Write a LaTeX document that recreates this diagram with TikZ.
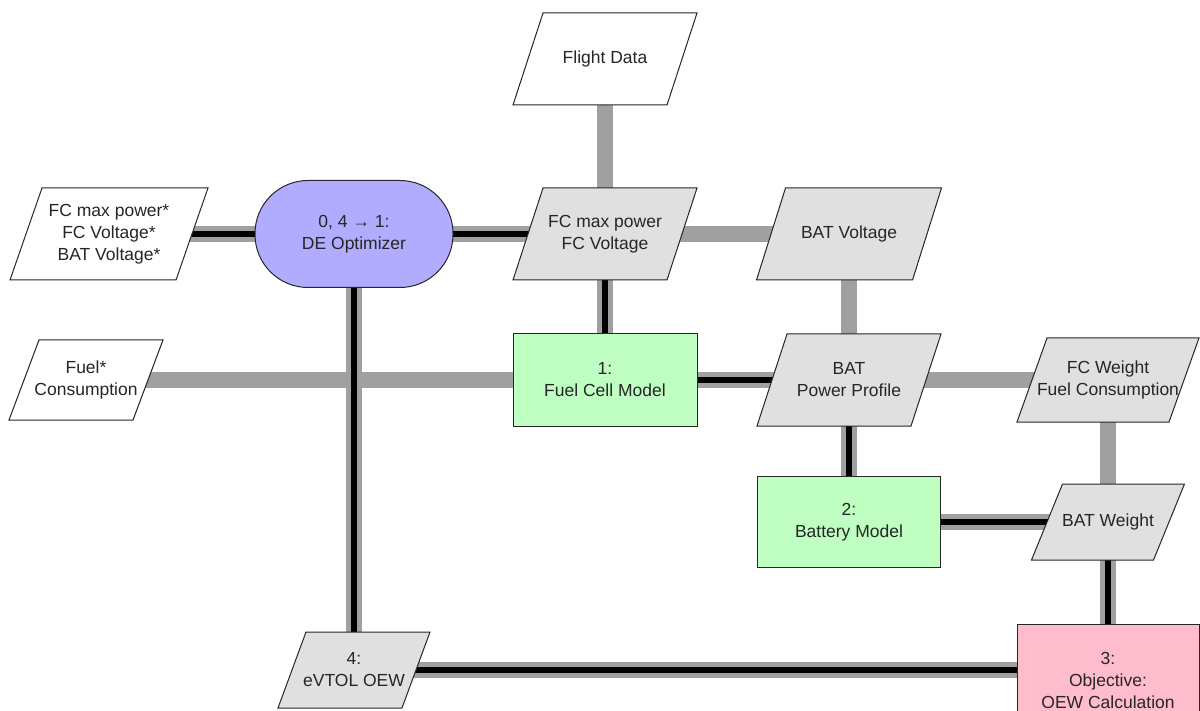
\documentclass[tikz,border=0pt]{standalone}
\usepackage{fontspec}
\setmainfont{Liberation Sans}
\usetikzlibrary{calc}
\pgfdeclarelayer{background}
\pgfdeclarelayer{shapes}
\pgfsetlayers{background,shapes,main}
\definecolor{datagray}{RGB}{160,160,160}
\definecolor{nodegray}{RGB}{224,224,224}
\definecolor{optblue}{RGB}{178,172,255}
\definecolor{fgreen}{RGB}{191,255,193}
\definecolor{objpink}{RGB}{255,188,204}
\definecolor{txtcol}{RGB}{38,38,38}
\tikzset{
  txt/.style={align=center, text=txtcol, inner sep=0pt, font=\fontsize{17.5}{22}\selectfont},
  pgramline/.style={draw=black!85, line width=1pt, line join=miter},
  compbox/.style={txt, draw=black!85, line width=1pt},
  dataline/.style={draw=datagray, line width=16pt},
  procline/.style={draw=black, line width=5.5pt},
}
% #1 name, #2 x, #3 y, #4 half width, #5 half height, #6 skew, #7 fill, #8 text
\newcommand\dnode[8]{%
  \node[txt] (#1) at (#2,#3) {#8};
  \begin{pgfonlayer}{shapes}
    \filldraw[pgramline, fill=#7] (#2-#4+#6/2,#3-#5) -- (#2+#4+#6/2,#3-#5)
      -- (#2+#4-#6/2,#3+#5) -- (#2-#4-#6/2,#3+#5) -- cycle;
  \end{pgfonlayer}}
\newcommand\dline[2]{%
  \begin{pgfonlayer}{background}
    \draw[dataline] (#1) -- (#2);
  \end{pgfonlayer}}
\newcommand\pline[2]{%
  \begin{pgfonlayer}{background}
    \draw[dataline] (#1) -- (#2);
    \draw[procline] (#1) -- (#2);
  \end{pgfonlayer}}
\begin{document}
\begin{tikzpicture}[x=1pt, y=-1pt]
  \useasboundingbox (0,0) rectangle (1200,711);
  % data nodes (parallelograms)
  \dnode{flight}{605}{59}{77}{46}{30}{white}{Flight Data}
  \dnode{inpfc}{109}{234}{83}{46}{32}{white}{FC max power*\\FC Voltage*\\BAT Voltage*}
  \dnode{fcmax}{605}{234}{77}{46}{30}{nodegray}{FC max power\\FC Voltage}
  \dnode{batv}{849}{234}{78}{46}{29}{nodegray}{BAT Voltage}
  \dnode{inpfuel}{86}{380}{62}{40}{30}{white}{Fuel*\\Consumption}
  \dnode{batpp}{849}{380}{77}{46}{30}{nodegray}{BAT\\Power Profile}
  \dnode{fcw}{1108}{380}{76}{42}{30}{nodegray}{FC Weight\\Fuel Consumption}
  \dnode{batw}{1108}{522}{61}{38}{31}{nodegray}{BAT Weight}
  \dnode{evtol}{354}{670}{62}{38}{28}{nodegray}{4:\\eVTOL OEW}
  % optimizer and components
  \node[compbox, fill=optblue, rounded corners=53pt, minimum width=198pt, minimum height=107pt] (opt) at (354,234) {0, 4 → 1:\\DE Optimizer};
  \node[compbox, fill=fgreen, minimum width=184pt, minimum height=92pt] (fcm) at (605,380) {1:\\Fuel Cell Model};
  \node[compbox, fill=fgreen, minimum width=183pt, minimum height=91pt] (bm) at (849,522) {2:\\Battery Model};
  \begin{scope}
    \clip (0,0) rectangle (1200,711);
    \node[compbox, fill=objpink, minimum width=182pt, minimum height=112pt] (obj) at (1108,680) {3:\\Objective:\\OEW Calculation};
  \end{scope}
  % connectors
  \dline{flight.center}{fcmax.center}
  \dline{fcmax.center}{batv.center}
  \dline{batv.center}{batpp.center}
  \dline{inpfuel.center}{fcm.center}
  \dline{batpp.center}{fcw.center}
  \dline{fcw.center}{batw.center}
  \pline{inpfc.center}{opt.center}
  \pline{opt.center}{fcmax.center}
  \pline{fcmax.center}{fcm.center}
  \pline{opt.center}{evtol.center}
  \pline{fcm.center}{batpp.center}
  \pline{batpp.center}{bm.center}
  \pline{bm.center}{batw.center}
  \pline{batw.center}{obj.center}
  \pline{evtol.center}{evtol.center -| obj.center}
\end{tikzpicture}
\end{document}
